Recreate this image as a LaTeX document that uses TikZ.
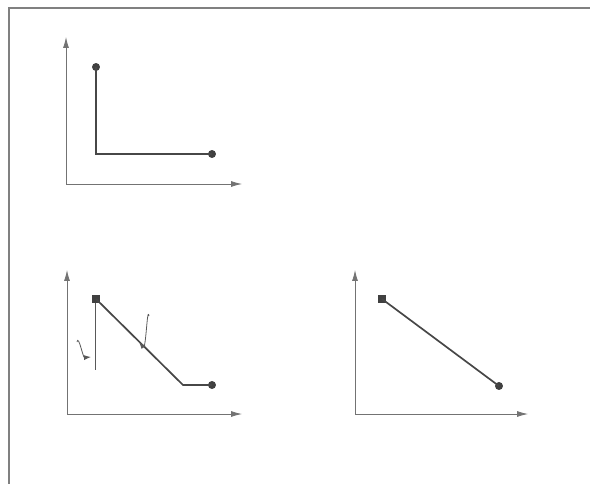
\documentclass[tikz,border=0pt]{standalone}
\usetikzlibrary{arrows.meta}
\begin{document}
\begin{tikzpicture}[x=1bp,y=-1bp,
    axis/.style={black!55,line width=0.8pt,-{Latex[length=11pt,width=6pt]}},
    curve/.style={black!72,line width=1.7pt},
    dot/.style={circle,fill=black!75,inner sep=0pt,minimum size=8pt},
    sqr/.style={rectangle,fill=black!75,inner sep=0pt,minimum size=7.5pt},
    lead/.style={black!65,line width=0.8pt}]
    \useasboundingbox (0,0) rectangle (590,484);
    \draw[black!50,line width=1.2pt](9,484)--(9,8)--(590,8);
    % top left
    \coordinate (o1) at (66,184);
    \coordinate (y1) at (66,37);
    \coordinate (x1) at (242,184);
    \draw[axis](o1)--(y1);
    \draw[axis](o1)--(x1);
    \node[dot] (a1) at (96,67) {};
    \node[dot] (c1) at (212,154) {};
    \coordinate (b1) at (96,154);
    \draw[curve](a1.center)--(b1)--(c1.center);
    % bottom left
    \coordinate (o2) at (67,414);
    \coordinate (y2) at (67,270);
    \coordinate (x2) at (242,414);
    \draw[axis](o2)--(y2);
    \draw[axis](o2)--(x2);
    \node[sqr] (a2) at (96,299) {};
    \node[dot] (c2) at (212,385) {};
    \coordinate (b2) at (183,385);
    \draw[curve](a2.center)--(b2)--(c2.center);
    \coordinate (u2) at (95,303);
    \coordinate (v2) at (95,370);
    \draw[lead](u2)--(v2);
    \coordinate (s2) at (77,342);
    \coordinate (t2) at (91,357);
    \draw[lead,-{Latex[length=7pt,width=5pt]}](s2) to[out=80,in=185] (t2);
    \coordinate (p2) at (149,316);
    \coordinate (q2) at (139,342);
    \draw[lead,-{Latex[length=7pt,width=5pt]}](p2) to[out=100,in=-50] (q2);
    % bottom right
    \coordinate (o3) at (355,414);
    \coordinate (y3) at (355,270);
    \coordinate (x3) at (528,414);
    \draw[axis](o3)--(y3);
    \draw[axis](o3)--(x3);
    \node[sqr] (a3) at (382,299) {};
    \node[dot] (c3) at (499,386) {};
    \draw[curve](a3.center)--(c3.center);
\end{tikzpicture}
\end{document}
